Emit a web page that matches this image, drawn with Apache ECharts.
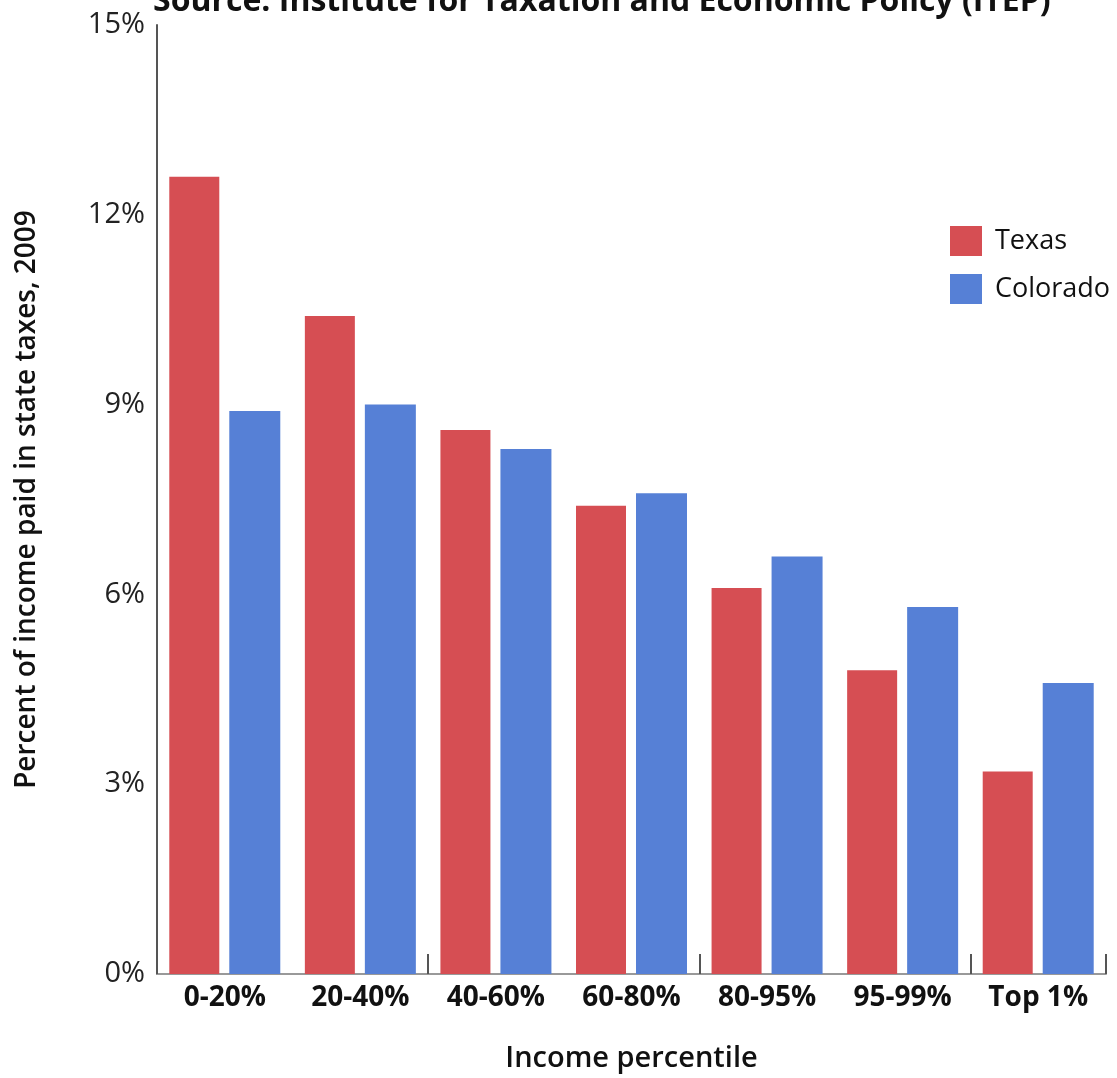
<!DOCTYPE html>
<html>
<head>
<meta charset="utf-8">
<title>State taxes by income percentile, 2009</title>
<script src="https://cdn.jsdelivr.net/npm/echarts@6/dist/echarts.min.js"></script>
<style>
  html, body { margin: 0; padding: 0; background: #fff; }
  #chart { width: 1117px; height: 1078px; }
</style>
</head>
<body>
<div id="chart"></div>
<script>
// Income groups
const categories = ['0-20%', '20-40%', '40-60%', '60-80%', '80-95%', '95-99%', 'Top 1%'];
// Share of income paid in state taxes (%)
const texas    = [12.6, 10.4, 8.6, 7.4, 6.1, 4.8, 3.2];
const colorado = [8.9, 9.0, 8.3, 7.6, 6.6, 5.8, 4.6];
// Value axis ticks
const yMin = 0, yMax = 15, yStep = 3;

const FONT = '"Open Sans", "Noto Sans", sans-serif';
const chart = echarts.init(document.getElementById('chart'), null, { renderer: 'canvas' });

chart.setOption({
  animation: false,
  textStyle: { fontFamily: FONT },
  title: {
    text: 'Source: Institute for Taxation and Economic Policy (ITEP)',
    left: 153,
    top: -14,
    padding: 0,
    textStyle: { fontFamily: FONT, fontSize: 32, fontWeight: 'bold', color: '#111' }
  },
  legend: {
    orient: 'vertical',
    left: 950,
    top: 226,
    padding: 0,
    itemWidth: 32,
    itemHeight: 30,
    itemGap: 18,
    icon: 'rect',
    textStyle: { fontFamily: FONT, fontSize: 27, color: '#111', padding: [0, 0, 0, 8] },
    data: ['Texas', 'Colorado']
  },
  grid: { left: 157, right: 11, top: 25, bottom: 102, containLabel: false },
  xAxis: {
    type: 'category',
    data: categories,
    name: 'Income percentile',
    nameLocation: 'middle',
    nameGap: 70,
    nameTextStyle: { fontFamily: FONT, fontSize: 29, fontWeight: 600, color: '#111' },
    axisLine: { lineStyle: { color: '#999', width: 2 } },
    axisTick: { show: true, interval: 1, inside: true, length: 20, lineStyle: { color: '#555', width: 2 } },
    axisLabel: { interval: 0, margin: 10, fontFamily: FONT, fontSize: 28, fontWeight: 'bold', color: '#111' },
    splitLine: { show: false }
  },
  yAxis: {
    type: 'value',
    min: yMin,
    max: yMax,
    interval: yStep,
    name: 'Percent of income paid in state taxes, 2009',
    nameLocation: 'middle',
    nameGap: 116,
    nameTextStyle: { fontFamily: FONT, fontSize: 28, fontWeight: 600, color: '#111' },
    axisLine: { show: true, lineStyle: { color: '#555', width: 2 } },
    axisTick: { show: false },
    axisLabel: { margin: 12, fontFamily: FONT, fontSize: 29, color: '#222', formatter: '{value}%' },
    splitLine: { show: false }
  },
  series: [
    {
      name: 'Texas',
      type: 'bar',
      data: texas,
      barWidth: 50,
      barGap: '20%',
      itemStyle: { color: '#d64e53' }
    },
    {
      name: 'Colorado',
      type: 'bar',
      data: colorado,
      barWidth: 51,
      itemStyle: { color: '#5680d6' }
    }
  ]
});
</script>
</body>
</html>
